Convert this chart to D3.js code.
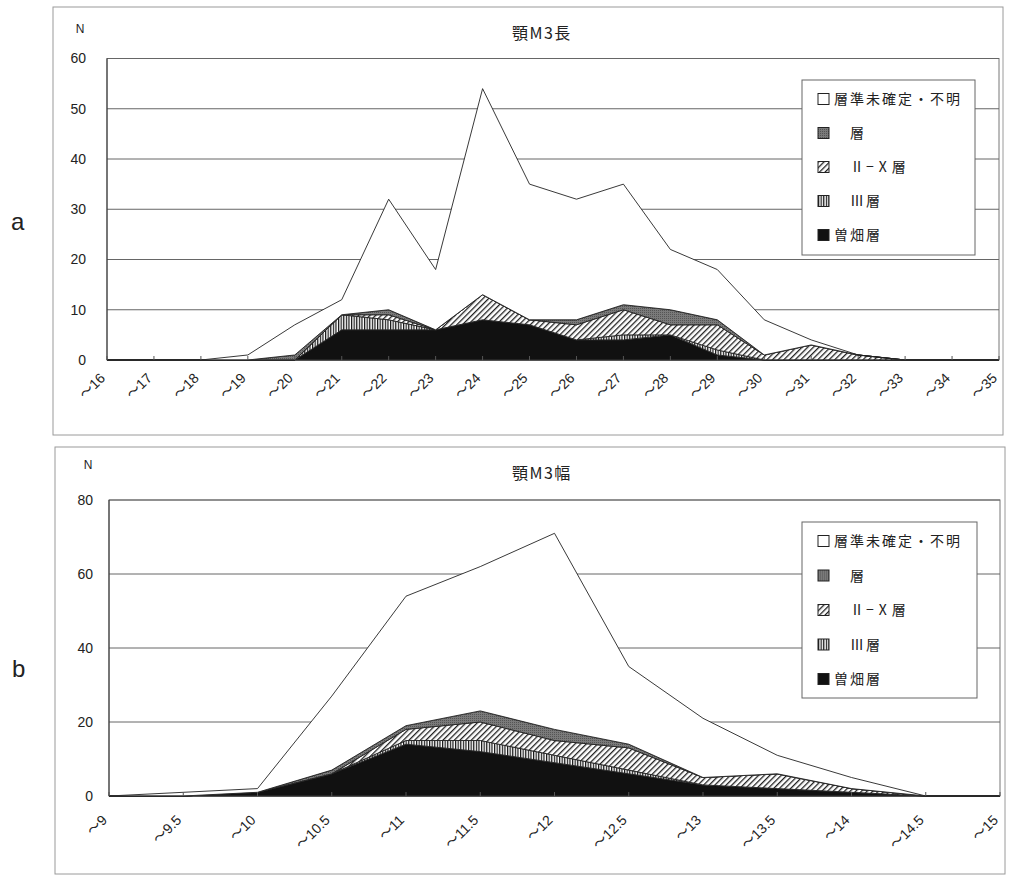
<!DOCTYPE html>
<html><head><meta charset="utf-8">
<script src="https://cdn.jsdelivr.net/npm/d3@7"></script>
<style>
html,body{margin:0;padding:0;background:#fff;}
svg{display:block;}
text{font-family:"Liberation Sans","Noto Sans CJK JP",sans-serif;fill:#222;}
.jp{font-family:"Noto Sans CJK JP","Noto Sans CJK SC",sans-serif;}
</style></head>
<body>
<svg id="chart" width="1013" height="877"></svg>
<script>
// ---- data ----
const seriesKeys = ["sobata", "s3", "s2x", "s1", "unknown"];
const legendLabels = ["層準未確定・不明", "\u3000層", "\u3000Ⅱ−Ⅹ層", "\u3000Ⅲ層", "曽畑層"];
const legendKeys = ["unknown", "s1", "s2x", "s3", "sobata"];

// Chart a: 顎M3長
const titleA = "顎M3長";
const categoriesA = ["～16","～17","～18","～19","～20","～21","～22","～23","～24","～25","～26","～27","～28","～29","～30","～31","～32","～33","～34","～35"];
const sobataA  = [0,0,0,0,0,6,6,6,8,7,4,4,5,1,0,0,0,0,0,0];
const s3A      = [0,0,0,0,0,3,2,0,0,0,0,1,0,1,0,0,0,0,0,0];
const s2xA     = [0,0,0,0,0,0,1,0,5,1,3,5,2,5,1,3,1,0,0,0];
const s1A      = [0,0,0,0,1,0,1,0,0,0,1,1,3,1,0,0,0,0,0,0];
const unknownA = [0,0,0,1,6,3,22,12,41,27,24,24,12,10,7,1,0,0,0,0];
const yTicksA = [0,10,20,30,40,50,60];

// Chart b: 顎M3幅
const titleB = "顎M3幅";
const categoriesB = ["～9","～9.5","～10","～10.5","～11","～11.5","～12","～12.5","～13","～13.5","～14","～14.5","～15"];
const sobataB  = [0,0,1,6,14,12,9,6,3,2,1,0,0];
const s3B      = [0,0,0,0,1,3,2,1,0,0,0,0,0];
const s2xB     = [0,0,0,0,3,5,4,6,2,4,1,0,0];
const s1B      = [0,0,0,1,1,3,3,1,0,0,0,0,0];
const unknownB = [0,1,1,20,35,39,53,21,16,5,3,0,0];
const yTicksB = [0,20,40,60,80];

const svg = d3.select("#chart");
const defs = svg.append("defs");
// patterns
const pv = defs.append("pattern").attr("id","vstripe").attr("patternUnits","userSpaceOnUse").attr("width",2.6).attr("height",4);
pv.append("rect").attr("width",2.6).attr("height",4).attr("fill","#fff");
pv.append("rect").attr("width",1.2).attr("height",4).attr("fill","#111");
const pd = defs.append("pattern").attr("id","diag").attr("patternUnits","userSpaceOnUse").attr("width",4).attr("height",4).attr("patternTransform","rotate(45)");
pd.append("rect").attr("width",4).attr("height",4).attr("fill","#fff");
pd.append("rect").attr("width",1.3).attr("height",4).attr("fill","#222");
const pg = defs.append("pattern").attr("id","grayp").attr("patternUnits","userSpaceOnUse").attr("width",2).attr("height",2);
pg.append("rect").attr("width",2).attr("height",2).attr("fill","#7a7a7a");
pg.append("rect").attr("width",1).attr("height",1).attr("fill","#555");

const fills = {sobata:"#111", s3:"url(#vstripe)", s2x:"url(#diag)", s1:"url(#grayp)", unknown:"#fff"};

function drawChart(cfg){
  const g = svg.append("g");
  // outer frame
  g.append("rect").attr("x",cfg.frame[0]).attr("y",cfg.frame[1]).attr("width",cfg.frame[2]-cfg.frame[0]).attr("height",cfg.frame[3]-cfg.frame[1])
    .attr("fill","none").attr("stroke","#9a9a9a").attr("stroke-width",1);
  const x = d3.scalePoint().domain(cfg.cats).range([cfg.left, cfg.right]);
  const y = d3.scaleLinear().domain([0, cfg.yMax]).range([cfg.bottom, cfg.top]);
  // plot border
  g.append("rect").attr("x",cfg.left).attr("y",cfg.top).attr("width",cfg.right-cfg.left).attr("height",cfg.bottom-cfg.top)
    .attr("fill","none").attr("stroke","#777").attr("stroke-width",1);
  // gridlines
  g.append("g").selectAll("line").data(cfg.yTicks.filter(d=>d>0)).join("line")
    .attr("x1",cfg.left).attr("x2",cfg.right).attr("y1",d=>y(d)).attr("y2",d=>y(d))
    .attr("stroke","#666").attr("stroke-width",1);
  // stacked areas
  const rows = cfg.cats.map((c,i)=>{const o={cat:c}; seriesKeys.forEach(k=>o[k]=cfg.data[k][i]); return o;});
  const stack = d3.stack().keys(seriesKeys)(rows);
  const area = d3.area().x(d=>x(d.data.cat)).y0(d=>y(d[0])).y1(d=>y(d[1]));
  g.append("g").selectAll("path").data(stack).join("path")
    .attr("d",area).attr("fill",d=>fills[d.key]).attr("stroke","#222").attr("stroke-width",0.9).attr("stroke-linejoin","round");
  // y axis line
  g.append("line").attr("x1",cfg.left).attr("x2",cfg.left).attr("y1",cfg.top).attr("y2",cfg.bottom).attr("stroke","#333");
  // x axis line + ticks
  g.append("line").attr("x1",cfg.left).attr("x2",cfg.right).attr("y1",cfg.bottom).attr("y2",cfg.bottom).attr("stroke","#333");
  g.append("g").selectAll("line").data(cfg.cats).join("line")
    .attr("x1",d=>x(d)).attr("x2",d=>x(d)).attr("y1",cfg.bottom).attr("y2",cfg.bottom-4).attr("stroke","#555");
  // y tick labels
  g.append("g").selectAll("text").data(cfg.yTicks).join("text")
    .attr("x",cfg.left-cfg.yLabGap).attr("y",d=>y(d)).attr("dy","0.35em").attr("text-anchor","end")
    .attr("font-size",14).text(d=>d);
  // x tick labels
  g.append("g").selectAll("text").data(cfg.cats).join("text")
    .attr("transform",d=>`translate(${x(d)+cfg.xLabDx},${cfg.bottom+cfg.xLabDy}) rotate(-45)`)
    .attr("text-anchor","end").attr("dy","0.7em").attr("font-size",14).text(d=>d);
  // N label
  g.append("text").attr("x",cfg.nPos[0]).attr("y",cfg.nPos[1]).attr("font-size",12).attr("text-anchor","middle").text("N");
  // title
  g.append("text").attr("class","jp").attr("x",cfg.titlePos[0]).attr("y",cfg.titlePos[1]).attr("font-size",16).attr("letter-spacing",1.5).text(cfg.title);
  // panel letter
  g.append("text").attr("x",cfg.letterPos[0]).attr("y",cfg.letterPos[1]).attr("font-size",24).attr("fill","#444").attr("font-family","DejaVu Sans").attr("font-weight",200).text(cfg.letter);
  // legend
  const L = cfg.legend;
  g.append("rect").attr("x",L.x0).attr("y",L.y0).attr("width",L.x1-L.x0).attr("height",L.y1-L.y0).attr("fill","#fff").attr("stroke","#666");
  const le = g.append("g").selectAll("g").data(legendKeys).join("g")
    .attr("transform",(d,i)=>`translate(${L.x0+16},${L.firstY+i*L.step})`);
  le.append("rect").attr("x",0).attr("y",-5.5).attr("width",11).attr("height",11).attr("fill",d=>fills[d]).attr("stroke","#222");
  le.append("text").attr("class","jp").attr("x",16).attr("dy","0.36em").attr("font-size",14).attr("letter-spacing",2)
    .style("white-space","pre").text((d,i)=>legendLabels[i]);
}

drawChart({
  frame:[53,7,1003,435], left:107, right:999, top:58.5, bottom:360, yMax:60, yTicks:yTicksA,
  cats:categoriesA, data:{sobata:sobataA,s3:s3A,s2x:s2xA,s1:s1A,unknown:unknownA},
  yLabGap:21, xLabDx:-8, xLabDy:12, nPos:[80,33], titlePos:[512,39], title:titleA, letter:"a", letterPos:[11,230],
  legend:{x0:802,y0:80,x1:975,y1:255,firstY:99,step:34}
});
drawChart({
  frame:[55,447,1005,874], left:109, right:1000, top:500, bottom:796, yMax:80, yTicks:yTicksB,
  cats:categoriesB, data:{sobata:sobataB,s3:s3B,s2x:s2xB,s1:s1B,unknown:unknownB},
  yLabGap:16, xLabDx:-8, xLabDy:18, nPos:[88,469], titlePos:[512,479], title:titleB, letter:"b", letterPos:[12,677],
  legend:{x0:802,y0:522,x1:977,y1:698,firstY:541,step:34.5}
});
</script>
</body></html>
